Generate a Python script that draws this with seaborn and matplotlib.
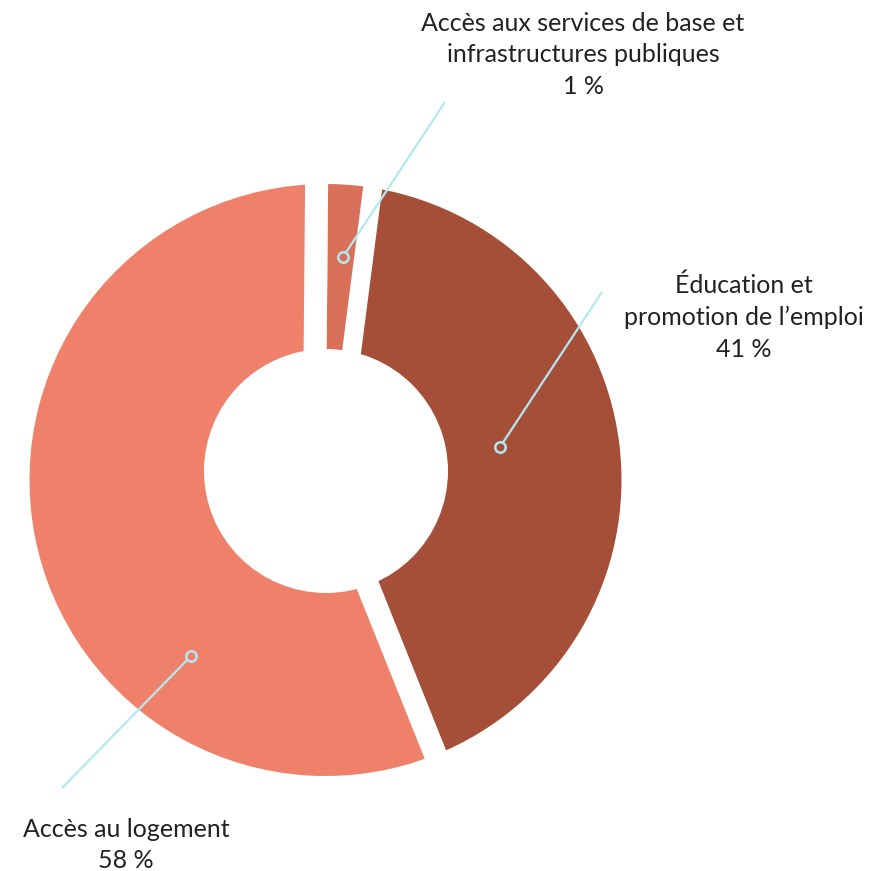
import numpy as np
import matplotlib
matplotlib.use("Agg")
import matplotlib.pyplot as plt
from matplotlib.patches import Circle
import seaborn as sns

# ---------------- data ----------------
categories = [
    "Accès aux services de base et\ninfrastructures publiques",
    "Éducation et\npromotion de l’emploi",
    "Accès au logement",
]
pct_labels = ["1 %", "41 %", "58 %"]
# slice sizes as drawn in the picture (share of the ring, %)
slice_shares = [1.9, 41.9, 56.2]
slice_colors = ["#D9705A", "#A54E38", "#EF8069"]

# ---------------- style ----------------
sns.set_theme(style="white")
plt.rcParams["font.family"] = ["Lato", "DejaVu Sans"]

W = H = 871
fig = plt.figure(figsize=(W / 100, H / 100), dpi=100)
ax = fig.add_axes([0, 0, 1, 1])

def P(x, y):
    """pixel (top-left origin) -> data coords"""
    return x, H - y

cx, cy = P(325.5, 480)
R = 296
start = 89.5

wedges, _ = ax.pie(
    slice_shares, colors=slice_colors, startangle=start, counterclock=False,
    radius=R, center=(cx, cy), wedgeprops=dict(linewidth=0),
)

# white gaps between slices (width px, offset px toward clockwise side)
gap_style = [(23, -11.5), (19, 9.5), (23, 0.0)]
bounds = start - 360 * np.cumsum([0] + slice_shares[:-1]) / 100.0
for phi, (w, off) in zip(bounds, gap_style):
    a = np.deg2rad(phi)
    u = np.array([np.cos(a), np.sin(a)])
    n = np.array([np.sin(a), -np.cos(a)])
    p0 = np.array([cx, cy]) + off * n
    p1 = p0 + (R + 30) * u
    ax.plot([p0[0], p1[0]], [p0[1], p1[1]], color="white",
            lw=w * 72 / 100, solid_capstyle="butt", zorder=3)

# hole
hx, hy = P(326, 471)
ax.add_patch(Circle((hx, hy), 122, facecolor="white", edgecolor="none", zorder=4))

# leader lines
cyan = "#B4E8F0"
anchors = [P(343, 257), P(500, 447), P(191, 656)]
line_ends = [P(445, 102), P(602, 292), P(62, 788)]
for (ax0, ay0), (ex, ey), col in zip(anchors, line_ends, slice_colors):
    ax.plot([ax0, ex], [ay0, ey], color=cyan, lw=1.6, zorder=5,
            solid_capstyle="butt")
    ax.plot([ax0], [ay0], marker="o", ms=7.5, mfc=col, mec=cyan, mew=1.8,
            zorder=6)

# labels
text_pos = [P(583, 55), P(744, 317), P(126, 845)]
for (tx, ty), cat, pct in zip(text_pos, categories, pct_labels):
    ax.text(tx, ty, f"{cat}\n{pct}", ha="center", va="center",
            multialignment="center", fontsize=18, color="#222222",
            fontweight="normal", linespacing=1.45, zorder=7)

ax.set_xlim(0, W)
ax.set_ylim(0, H)
ax.set_aspect("equal")
ax.axis("off")
fig.savefig("out.png", dpi=100, facecolor="white")
